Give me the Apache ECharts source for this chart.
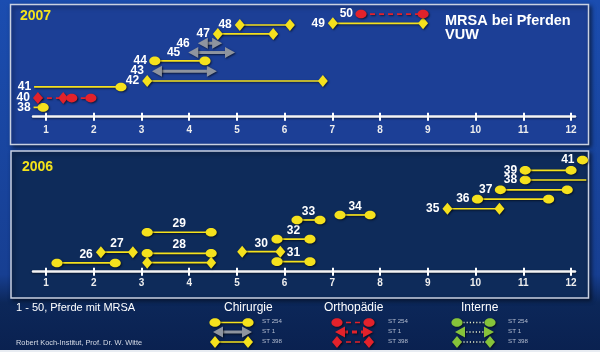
<!DOCTYPE html>
<html>
<head>
<meta charset="utf-8">
<script src="https://cdn.jsdelivr.net/npm/echarts@6/dist/echarts.min.js"></script>
<style>
html, body { margin: 0; padding: 0; background: #0b2550; }
#chart { width: 600px; height: 352px; }
</style>
</head>
<body>
<div id="chart"></div>
<script>
// Monate (Achse)
var months = [1, 2, 3, 4, 5, 6, 7, 8, 9, 10, 11, 12]

// 2007 – Pferd-Nr., Beginn, Ende (Monat), Zeile, Sequenztyp, Klinik, offen
var ids2007 = ['38', '40', '', '41', '42', '43', '44', '45', '46', '47', '48', '49', '50']
var start2007 = [0.74, 0.83, 1.54, 0.75, 3.12, 3.22, 3.28, 3.98, 4.18, 4.60, 5.06, 7.01, 7.60]
var end2007 = [0.94, 1.36, 1.94, 2.57, 6.80, 4.58, 4.33, 4.96, 4.69, 5.76, 6.11, 8.90, 8.90]
var row2007 = [1.0, 2.0, 2.0, 3.2, 3.84, 4.9, 6.0, 6.9, 7.9, 8.9, 9.86, 10.04, 11.04]
var st2007 = ['254', '398', '254', '254', '398', '1', '254', '1', '1', '398', '398', '398', '254']
var dept2007 = ['chir', 'ortho', 'ortho', 'chir', 'chir', 'chir', 'chir', 'chir', 'chir', 'chir', 'chir', 'chir', 'ortho']
var open2007 = ['start', '', '', 'start', '', '', '', '', '', '', '', '', '']

// 2006
var ids2006 = ['26', '27', '28', '', '29', '30', '31', '32', '33', '34', '35', '36', '37', '38', '39', '41']
var start2006 = [1.23, 2.15, 3.12, 3.12, 3.12, 5.11, 5.84, 5.84, 6.26, 7.16, 9.41, 10.04, 10.52, 11.04, 11.04, 12.24]
var end2006 = [2.45, 2.82, 4.46, 4.46, 4.46, 5.91, 6.53, 6.53, 6.74, 7.79, 10.50, 11.53, 11.92, 12.32, 12.00, 12.24]
var row2006 = [0.94, 2.1, 1.98, 0.97, 4.24, 2.15, 1.08, 3.5, 5.56, 6.1, 6.77, 7.8, 8.8, 9.86, 10.9, 12.0]
var st2006 = ['254', '398', '254', '398', '254', '398', '254', '254', '254', '254', '398', '254', '254', '254', '254', '254']
var dept2006 = ['chir', 'chir', 'chir', 'chir', 'chir', 'chir', 'chir', 'chir', 'chir', 'chir', 'chir', 'chir', 'chir', 'chir', 'chir', 'chir']
var open2006 = ['', '', '', '', '', '', '', '', '', '', '', '', '', 'end', '', '']

var YELLOW = '#f5e11d'
var GREY = '#8e949f'
var RED = '#e3222b'
var GREEN = '#86c33a'
var FONT = '"Liberation Sans", Arial, sans-serif'
var SHADOW = { shadowBlur: 2, shadowColor: 'rgba(0,0,0,0.6)', shadowOffsetX: 1, shadowOffsetY: 1 }

function colorOf(st, dept) {
  if (dept === 'ortho') return RED
  if (dept === 'int') return GREEN
  return st === '1' ? GREY : YELLOW
}

function withShadow(style) {
  return Object.assign({}, SHADOW, style)
}

// Endpunkt: Kreis = ST 254, Pfeil = ST 1, Raute = ST 398
function marker(x, y, st, color, dir) {
  if (st === '254') {
    return { type: 'ellipse', shape: { cx: x, cy: y, rx: 5.6, ry: 4.3 }, style: withShadow({ fill: color }) }
  }
  if (st === '398') {
    return { type: 'polygon', shape: { points: [[x, y - 6], [x + 5, y], [x, y + 6], [x - 5, y]] }, style: withShadow({ fill: color }) }
  }
  return { type: 'polygon', shape: { points: [[x, y], [x - dir * 10, y - 5.5], [x - dir * 10, y + 5.5]] }, style: withShadow({ fill: color }) }
}

function segment(x1, x2, y, st, dept, open) {
  var color = colorOf(st, dept)
  var els = []
  var a = st === '1' ? 8 : 0
  var ls = { stroke: color, lineWidth: st === '1' ? 3 : 1.7 }
  if (dept === 'ortho') ls.lineDash = [5, 4]
  if (dept === 'int') { ls.stroke = '#dfe8c8'; ls.lineDash = [1.2, 2]; ls.lineWidth = 1.4 }
  if (x2 > x1) {
    els.push({
      type: 'line',
      shape: { x1: open === 'start' ? x1 : x1 + a, y1: y, x2: open === 'end' ? x2 : x2 - a, y2: y },
      style: withShadow(ls)
    })
  }
  if (open !== 'start') els.push(marker(x1, y, st, color, -1))
  if (open !== 'end' && x2 !== x1) els.push(marker(x2, y, st, color, 1))
  return els
}

function label(text, x, y, align) {
  return {
    type: 'text',
    style: withShadow({
      text: text, x: x, y: y, fill: '#ffffff', font: 'bold 12px ' + FONT,
      align: align, verticalAlign: 'middle', textAlign: align, textVerticalAlign: 'middle'
    })
  }
}

function rowRenderer(ids, st, dept, open, above) {
  return function (params, api) {
    var i = params.dataIndex
    var p1 = api.coord([api.value(0), api.value(2)])
    var p2 = api.coord([api.value(1), api.value(2)])
    var kids = segment(p1[0], p2[0], p1[1], st[i], dept[i], open[i])
    if (ids[i]) {
      if (above(ids[i])) {
        kids.push(label(ids[i], (p1[0] + p2[0]) / 2, p1[1] - 8.5, 'center'))
      } else {
        kids.push(label(ids[i], p1[0] - (open[i] === 'start' ? 3 : 8), p1[1], 'right'))
      }
    }
    return { type: 'group', children: kids }
  }
}

function build(s, e, r) {
  return s.map(function (v, i) { return [v, e[i], r[i]] })
}

var X_MIN = 0.7276
var X_MAX = 12.083

function xAx(gridIndex, inside, main, margin) {
  return {
    type: 'value',
    gridIndex: gridIndex,
    min: X_MIN,
    max: X_MAX,
    position: 'bottom',
    z: 3,
    axisLine: { show: main, onZero: false, lineStyle: { color: '#f4f4f4', width: 2.5, shadowBlur: 2, shadowColor: 'rgba(0,0,0,0.5)', shadowOffsetY: 1 } },
    axisTick: { show: true, inside: inside, length: 4, customValues: months, lineStyle: { color: '#ffffff', width: 2 } },
    axisLabel: { show: main, customValues: months, color: '#eeeeee', fontWeight: 'bold', fontSize: 10, fontFamily: FONT, margin: margin || 8 },
    splitLine: { show: false }
  }
}

function txt(text, x, y, font, fill, align) {
  return {
    type: 'text', z: 1,
    style: {
      text: text, x: x, y: y, font: font + ' ' + FONT, fill: fill,
      align: align || 'left', verticalAlign: 'middle', textAlign: align || 'left', textVerticalAlign: 'middle',
      shadowBlur: 2, shadowColor: 'rgba(0,0,0,0.6)', shadowOffsetX: 1, shadowOffsetY: 1
    }
  }
}

// Legende (Zeichenerklärung)
var legendCols = [
  { title: 'Chirurgie', dept: 'chir', tx: 224, x1: 215, x2: 248, lx: 262 },
  { title: 'Orthopädie', dept: 'ortho', tx: 324, x1: 337, x2: 369, lx: 388 },
  { title: 'Interne', dept: 'int', tx: 461, x1: 457, x2: 490, lx: 508 }
]
var legendSt = ['254', '1', '398']
var legendY = [322.5, 332, 342]

var graphics = [
  { type: 'rect', z: 0, shape: { x: 10.5, y: 4.5, width: 578, height: 140 }, style: { fill: '#1c3f96', stroke: '#c9d1e2', lineWidth: 1.5, shadowBlur: 4, shadowColor: 'rgba(0,0,0,0.5)', shadowOffsetX: 2, shadowOffsetY: 2 } },
  { type: 'rect', z: 0, shape: { x: 11, y: 151, width: 577.5, height: 147 }, style: { fill: '#0e2b5a', stroke: '#c9d1e2', lineWidth: 1.5, shadowBlur: 4, shadowColor: 'rgba(0,0,0,0.5)', shadowOffsetX: 2, shadowOffsetY: 2 } },
  { type: 'rect', z: 0, shape: { x: 0, y: 350, width: 600, height: 2 }, style: { fill: '#e8ecf2' } },
  txt('2007', 20, 16, 'bold 14px', '#f3e21b'),
  txt('2006', 22, 167.5, 'bold 14px', '#f3e21b'),
  txt('MRSA bei Pferden', 445, 21, 'bold 14.5px', '#ffffff'),
  txt('VUW', 445, 35, 'bold 14.5px', '#ffffff'),
  txt('1 - 50, Pferde mit MRSA', 16, 308, '11px', '#ffffff'),
  txt('Robert Koch-Institut, Prof. Dr. W. Witte', 16, 342.5, '7.4px', '#d8dde8')
]

legendCols.forEach(function (c) {
  graphics.push(txt(c.title, c.tx, 308, '12px', '#ffffff'))
  legendSt.forEach(function (st, k) {
    var pad = st === '1' ? [2, 4] : [0, 0]
    graphics.push({ type: 'group', z: 1, children: segment(c.x1 - pad[0], c.x2 + pad[1], legendY[k], st, c.dept, '') })
    graphics.push({
      type: 'text', z: 1,
      style: { text: 'ST ' + st, x: c.lx, y: legendY[k] - 0.8, font: '6.2px ' + FONT, fill: '#b4bdd0', align: 'left', verticalAlign: 'middle', textAlign: 'left', textVerticalAlign: 'middle' }
    })
  })
})

var chart = echarts.init(document.getElementById('chart'), null, { renderer: 'canvas' })
chart.setOption({
  animation: false,
  backgroundColor: new echarts.graphic.LinearGradient(0, 0, 0, 1, [
    { offset: 0, color: '#1b4db0' },
    { offset: 0.78, color: '#173f92' },
    { offset: 0.86, color: '#0c2759' },
    { offset: 1, color: '#0a2150' }
  ]),
  grid: [
    { left: 33, top: 5.1, width: 542, height: 111.6 },
    { left: 33, top: 160.1, width: 542, height: 111.6 }
  ],
  xAxis: [xAx(0, false, true, 9), xAx(0, true, false), xAx(1, false, true, 6.5), xAx(1, true, false)],
  yAxis: [
    { type: 'value', gridIndex: 0, min: 0, max: 12, show: false },
    { type: 'value', gridIndex: 1, min: 0, max: 12, show: false }
  ],
  graphic: { elements: graphics },
  series: [
    {
      type: 'custom',
      xAxisIndex: 0,
      yAxisIndex: 0,
      z: 5,
      encode: { x: [0, 1], y: 2 },
      data: build(start2007, end2007, row2007),
      renderItem: rowRenderer(ids2007, st2007, dept2007, open2007, function () { return false })
    },
    {
      type: 'custom',
      xAxisIndex: 2,
      yAxisIndex: 1,
      z: 5,
      encode: { x: [0, 1], y: 2 },
      data: build(start2006, end2006, row2006),
      renderItem: rowRenderer(ids2006, st2006, dept2006, open2006, function (id) { return +id < 35 })
    }
  ]
})
</script>
</body>
</html>
